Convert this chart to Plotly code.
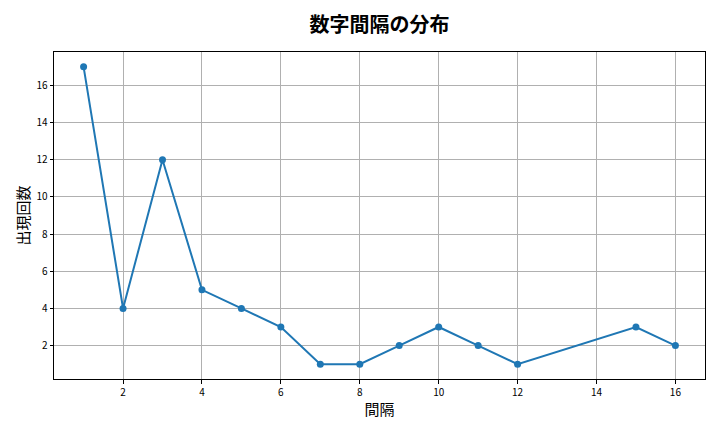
import plotly.graph_objects as go

# 間隔ごとの出現回数
intervals = [1, 2, 3, 4, 5, 6, 7, 8, 9, 10, 11, 12, 15, 16]
counts = [17, 4, 12, 5, 4, 3, 1, 1, 2, 3, 2, 1, 3, 2]

FONT = "Noto Sans CJK JP"

fig = go.Figure(
    go.Scatter(
        x=intervals,
        y=counts,
        mode="lines+markers",
        line=dict(color="#1f77b4", width=2),
        marker=dict(color="#1f77b4", size=7),
    )
)

axis_style = dict(
    showgrid=True,
    gridcolor="#b0b0b0",
    gridwidth=0.8,
    zeroline=False,
    showline=True,
    linecolor="black",
    linewidth=1,
    mirror=True,
    ticks="outside",
    ticklen=3.5,
    tickcolor="black",
    tickfont=dict(family=FONT, size=10, color="black"),
    dtick=2,
    automargin=False,
)

# the page body has an 8px margin, so the margins are shifted to compensate
fig.update_layout(
    width=720,
    height=432,
    margin=dict(l=46, r=23, t=44, b=61),
    plot_bgcolor="white",
    paper_bgcolor="white",
    showlegend=False,
    title=dict(
        text="<b>数字間隔の分布</b>",
        x=0.5,
        xref="paper",
        y=0.961,
        yref="container",
        yanchor="middle",
        font=dict(family=FONT, size=20, color="black"),
    ),
    xaxis=dict(
        axis_style,
        range=[0.25, 16.75],
        title=dict(text="間隔", font=dict(family=FONT, size=15, color="black"), standoff=6),
    ),
    yaxis=dict(
        axis_style,
        range=[0.2, 17.8],
        title=dict(text="出現回数", font=dict(family=FONT, size=15, color="black"), standoff=3),
    ),
)

fig.write_html("out.html")
